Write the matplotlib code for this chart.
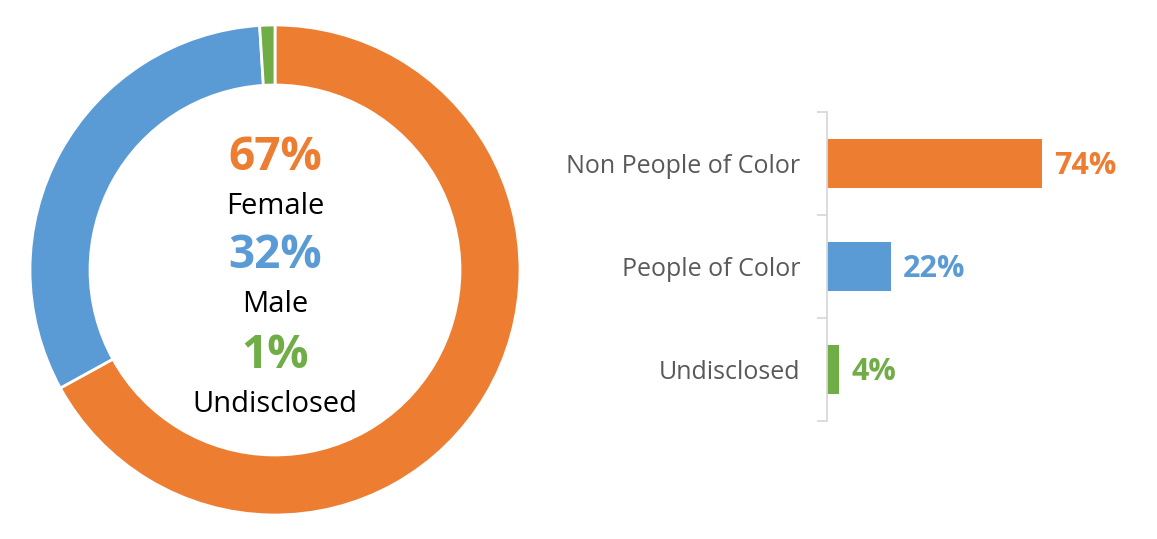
import matplotlib
matplotlib.use("Agg")
import matplotlib.pyplot as plt

# Data
gender_labels = ["Female", "Male", "Undisclosed"]
gender_values = [67, 32, 1]
gender_colors = ["#ED7D31", "#5B9BD5", "#70AD47"]

race_labels = ["Non People of Color", "People of Color", "Undisclosed"]
race_values = [74, 22, 4]
race_colors = ["#ED7D31", "#5B9BD5", "#70AD47"]

plt.rcParams['font.family'] = ['Open Sans', 'DejaVu Sans']

fig = plt.figure(figsize=(11.57, 5.39), dpi=100)

# Donut
ax1 = fig.add_axes([30/1157, (539-515)/539, 490/1157, 490/539])
ax1.pie(gender_values, colors=gender_colors, startangle=90, counterclock=False,
        radius=1.0, wedgeprops=dict(width=0.245, edgecolor="white", linewidth=2))
ax1.set_xlim(-1, 1)
ax1.set_ylim(-1, 1)
ax1.set_aspect("equal")
ax1.axis("off")

cy = 270
def ypos(px):
    return (cy - px) / 245.0

val_px = [157, 255, 356]
lab_px = [206, 305, 405]
for lab, v, c, vp, lp in zip(gender_labels, gender_values, gender_colors, val_px, lab_px):
    ax1.text(0, ypos(vp), f"{v}%", ha="center", va="center", fontsize=33,
             fontweight="bold", color=c)
    ax1.text(0, ypos(lp), lab, ha="center", va="center", fontsize=21, color="black")

# Bars
ax2 = fig.add_axes([827/1157, (539-421)/539, 290/1157, 309/539])
ypos_bars = list(range(len(race_labels)))
ax2.barh(ypos_bars, race_values, color=race_colors, height=0.47)
ax2.set_xlim(0, 100)
ax2.set_ylim(2.5, -0.5)
for s in ["top", "right", "bottom"]:
    ax2.spines[s].set_visible(False)
ax2.spines["left"].set_color("#D9D9D9")
ax2.spines["left"].set_linewidth(1.3)
ax2.set_xticks([])
ax2.set_yticks(ypos_bars)
ax2.set_yticklabels(race_labels, fontsize=18, color="#595959")
ax2.tick_params(axis="y", which="major", length=0, pad=19)
ax2.set_yticks([-0.5, 0.5, 1.5, 2.5], minor=True)
ax2.tick_params(axis="y", which="minor", length=7, color="#D9D9D9", width=1.3)
for y, v, c in zip(ypos_bars, race_values, race_colors):
    ax2.annotate(f"{v}%", (v, y), xytext=(9, -1.5), textcoords="offset points",
                 ha="left", va="center", fontsize=22, fontweight="bold", color=c)

fig.savefig("out.png", dpi=100)
